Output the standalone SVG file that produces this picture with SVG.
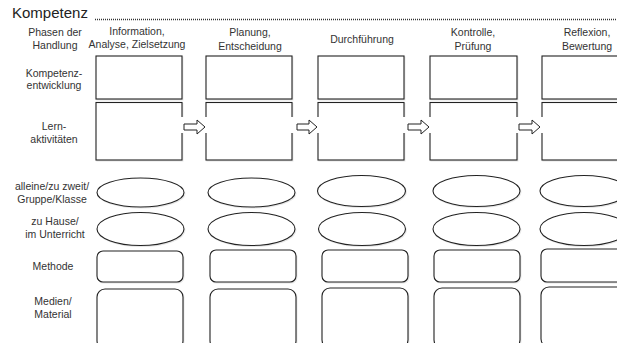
<svg xmlns="http://www.w3.org/2000/svg" width="617" height="343" viewBox="0 0 617 343">
<defs>
<style>
text{font-family:"Liberation Sans",Arial,sans-serif;font-size:10.5px;fill:#333;text-anchor:middle}
.title{font-size:15px;text-anchor:start;fill:#222}
.box{fill:#fff;stroke:#222;stroke-width:1.1;filter:url(#sh)}
.arr{fill:#fff;stroke:#222;stroke-width:1}
</style>
<filter id="sh" x="-10%" y="-10%" width="125%" height="130%">
<feDropShadow dx="0.8" dy="1" stdDeviation="0.6" flood-color="#000" flood-opacity="0.1"/>
</filter>
</defs>
<rect width="617" height="343" fill="#fff"/>
<text class="title" x="12" y="18">Kompetenz</text>
<line x1="95" y1="19.5" x2="617" y2="19.5" stroke="#333" stroke-width="1.3" stroke-dasharray="1 1"/>

<g id="labels">
<text x="55" y="36">Phasen der</text><text x="55" y="49">Handlung</text>
<text x="54" y="77">Kompetenz-</text><text x="54" y="89">entwicklung</text>
<text x="54" y="130">Lern-</text><text x="54" y="143">aktivitäten</text>
<text x="52" y="190">alleine/zu zweit/</text><text x="52" y="203">Gruppe/Klasse</text>
<text x="55" y="225">zu Hause/</text><text x="55" y="238">im Unterricht</text>
<text x="53" y="270">Methode</text>
<text x="53" y="305">Medien/</text><text x="53" y="318">Material</text>
</g>

<g id="phase1">
<text x="137" y="35">Information,</text><text x="137" y="48">Analyse, Zielsetzung</text>
<rect class="box" x="96" y="56" width="86" height="43"/>
<rect class="box" x="96" y="102.5" width="86" height="57.5"/>
<ellipse class="box" cx="140.5" cy="192.5" rx="43.5" ry="14.5"/>
<ellipse class="box" cx="140.5" cy="229" rx="43.5" ry="16.5"/>
<rect class="box" x="97" y="251" width="86" height="31" rx="6"/>
<rect class="box" x="97" y="289" width="86" height="60" rx="8"/>
</g>
<g id="phase2">
<text x="250" y="36">Planung,</text><text x="250" y="50">Entscheidung</text>
<rect class="box" x="206" y="56" width="86" height="43"/>
<rect class="box" x="206" y="102.5" width="86" height="57.5"/>
<ellipse class="box" cx="251.5" cy="192.5" rx="43.5" ry="14.5"/>
<ellipse class="box" cx="251.5" cy="229" rx="43.5" ry="16.5"/>
<rect class="box" x="210" y="250" width="86" height="32" rx="6"/>
<rect class="box" x="210" y="289" width="86" height="60" rx="8"/>
</g>
<g id="phase3">
<text x="362" y="43">Durchführung</text>
<rect class="box" x="318" y="56" width="86" height="43"/>
<rect class="box" x="318" y="102.5" width="86" height="57.5"/>
<ellipse class="box" cx="361.5" cy="191" rx="44" ry="15.5"/>
<ellipse class="box" cx="362" cy="229" rx="43.5" ry="16.5"/>
<rect class="box" x="322" y="250" width="86" height="32" rx="6"/>
<rect class="box" x="322" y="288" width="86" height="60" rx="8"/>
</g>
<g id="phase4">
<text x="473" y="36">Kontrolle,</text><text x="473" y="50">Prüfung</text>
<rect class="box" x="430" y="56" width="87" height="43"/>
<rect class="box" x="430" y="102.5" width="87" height="57.5"/>
<ellipse class="box" cx="476.5" cy="191" rx="43.5" ry="15.5"/>
<ellipse class="box" cx="476.5" cy="229" rx="43.5" ry="16.5"/>
<rect class="box" x="434" y="250" width="86" height="32" rx="6"/>
<rect class="box" x="434" y="288" width="86" height="60" rx="8"/>
</g>
<g id="phase5">
<text x="587" y="36">Reflexion,</text><text x="587" y="50">Bewertung</text>
<rect class="box" x="542" y="56" width="86" height="43"/>
<rect class="box" x="542" y="102.5" width="86" height="57.5"/>
<ellipse class="box" cx="584" cy="191" rx="44" ry="15.5"/>
<ellipse class="box" cx="584" cy="229" rx="44" ry="16.5"/>
<rect class="box" x="541" y="249" width="86" height="33" rx="6"/>
<rect class="box" x="541" y="287" width="86" height="60" rx="8"/>
</g>

<g id="connectors">
<rect x="180" y="117" width="28" height="16" fill="#fff"/>
<path class="arr" d="M184,124 H197 V120 L205,127 L197,134 V130 H184 Z"/>
<rect x="290" y="117" width="30" height="16" fill="#fff"/>
<path class="arr" d="M297,124 H309 V120 L317,127 L309,134 V130 H297 Z"/>
<rect x="402" y="117" width="30" height="16" fill="#fff"/>
<path class="arr" d="M408,124 H421 V120 L429,127 L421,134 V130 H408 Z"/>
<rect x="515" y="117" width="29" height="16" fill="#fff"/>
<path class="arr" d="M519,124 H532 V120 L540,127 L532,134 V130 H519 Z"/>
</g>
</svg>
